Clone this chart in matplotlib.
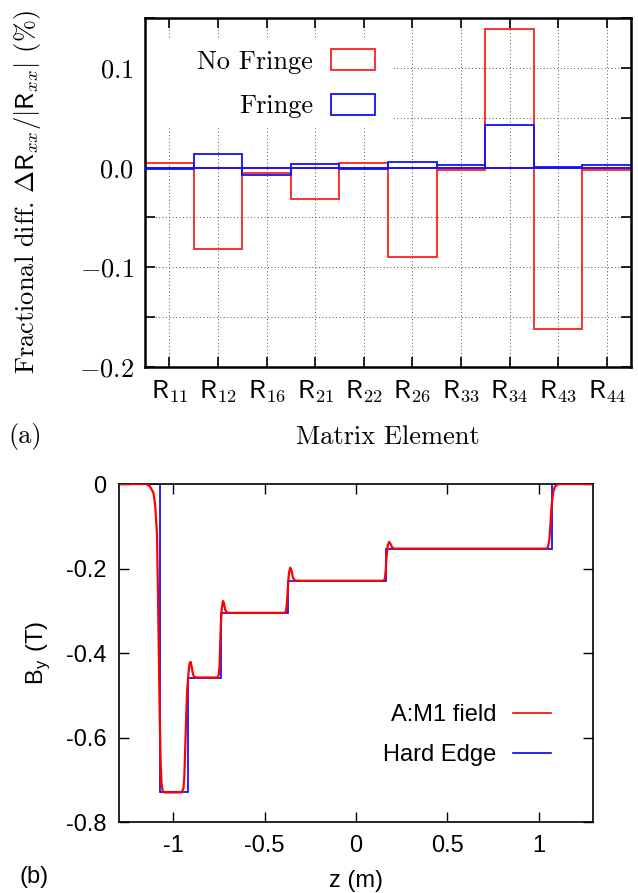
import matplotlib
matplotlib.use("Agg")
import matplotlib.pyplot as plt
from matplotlib.patches import Patch, Rectangle
from matplotlib.lines import Line2D
from matplotlib.ticker import FixedLocator, FormatStrFormatter

plt.rcParams['font.family'] = ['Liberation Sans', 'DejaVu Sans']
plt.rcParams['mathtext.fontset'] = 'cm'
plt.rcParams['axes.unicode_minus'] = False

# (a) fractional difference per matrix element
elements = ['11', '12', '16', '21', '22', '26', '33', '34', '43', '44']
no_fringe = [0.005, -0.082, -0.005, -0.031, 0.005, -0.090, -0.002, 0.139, -0.162, -0.002]
fringe = [-0.001, 0.014, -0.007, 0.004, -0.001, 0.006, 0.003, 0.043, 0.001, 0.003]
ytick_vals = [0.15, 0.1, 0.05, 0.0, -0.05, -0.1, -0.15, -0.2]
ytick_text = ['', r'$0.1$', '', r'$0.0$', '', r'$-0.1$', '', r'$-0.2$']

# (b) field profile along z
hard_edges = [-1.3, -1.075, -0.918, -0.742, -0.375, 0.167, 1.075, 1.3]
hard_by = [0.0, -0.730, -0.458, -0.305, -0.229, -0.153, 0.0]
fringe_z = [-1.30, -1.15, -1.13, -1.11, -1.10, -1.09, -1.085, -1.08, -1.075, -1.07,
            -1.065, -1.058, -1.05, -0.955, -0.945, -0.94, -0.935, -0.93, -0.925, -0.918,
            -0.912, -0.906, -0.90, -0.893, -0.885, -0.87, -0.76, -0.752, -0.747, -0.744,
            -0.740, -0.735, -0.729, -0.724, -0.717, -0.708, -0.69, -0.39, -0.383, -0.378,
            -0.373, -0.367, -0.36, -0.353, -0.345, -0.335, -0.32, 0.15, 0.158, 0.163,
            0.168, 0.174, 0.182, 0.19, 0.198, 0.21, 1.04, 1.052, 1.06, 1.066,
            1.072, 1.08, 1.09, 1.105, 1.12, 1.30]
fringe_by = [0.0, 0.0, -0.005, -0.02, -0.05, -0.12, -0.25, -0.40, -0.55, -0.66,
             -0.71, -0.727, -0.730, -0.730, -0.72, -0.69, -0.62, -0.55, -0.49, -0.45,
             -0.425, -0.421, -0.432, -0.450, -0.457, -0.458, -0.458, -0.452, -0.43, -0.38,
             -0.33, -0.295, -0.277, -0.280, -0.297, -0.304, -0.305, -0.305, -0.300, -0.28,
             -0.245, -0.21, -0.198, -0.205, -0.222, -0.228, -0.229, -0.229, -0.225, -0.205,
             -0.17, -0.145, -0.137, -0.142, -0.150, -0.153, -0.153, -0.150, -0.13, -0.09,
             -0.05, -0.02, -0.006, -0.001, 0.0, 0.0]

fig = plt.figure(figsize=(6.38, 8.93), dpi=100)

# ---- top panel
ax1 = fig.add_axes([0.2273, 0.589, 0.7618, 0.3908])
pos = list(range(1, len(elements) + 1))
ax1.bar(pos, no_fringe, width=1.0, fill=False, edgecolor='#ff2020', linewidth=1.3, zorder=2)
ax1.bar(pos, fringe, width=1.0, fill=False, edgecolor='#1010ff', linewidth=1.3, zorder=3)
ax1.set_xlim(0.5, 10.5)
ax1.set_ylim(-0.2, 0.15)
ax1.set_xticks(pos)
ax1.set_xticklabels([r'$\mathsf{R}_{\mathsf{%s}}$' % e for e in elements], fontsize=19)
ax1.yaxis.set_major_locator(FixedLocator(ytick_vals))
ax1.set_yticklabels(ytick_text, fontsize=19)
ax1.grid(True, linestyle=(0, (1, 2.5)), color='#555555', linewidth=0.7)
ax1.set_axisbelow(True)
ax1.tick_params(direction='in', length=7, width=1.2, top=True, right=True, pad=8)
for s in ax1.spines.values():
    s.set_linewidth(1.8)
# key area hides the grid, as in gnuplot
ax1.add_patch(Rectangle((0.0, 0.685), 0.512, 0.258, transform=ax1.transAxes,
                        facecolor='white', edgecolor='none', zorder=1))
ax1.set_ylabel(r'Fractional diff. $\Delta\mathsf{R}_{xx}/|\mathsf{R}_{xx}|$ (%)',
               fontfamily='cmr10', fontsize=19, labelpad=26)
ax1.set_xlabel('Matrix Element', fontfamily='cmr10', fontsize=19, labelpad=15)
h1 = [Patch(facecolor='none', edgecolor='#ff2020', linewidth=1.3),
      Patch(facecolor='none', edgecolor='#1010ff', linewidth=1.3)]
ax1.legend(h1, ['No Fringe', 'Fringe'], loc='center right', bbox_to_anchor=(0.473, 0.812),
           markerfirst=False, frameon=False, prop={'family': 'cmr10', 'size': 19},
           handlelength=1.65, handleheight=0.85, handletextpad=0.7, labelspacing=0.75,
           borderpad=0, borderaxespad=0)
fig.text(8 / 638, 1 - 437 / 893, '(a)', fontfamily='cmr10', fontsize=19, va='center')

# ---- bottom panel
ax2 = fig.add_axes([0.186, 0.0795, 0.7439, 0.3785])
ax2.stairs(hard_by, hard_edges, baseline=None, color='#0000ff', linewidth=1.2, zorder=2)
ax2.plot(fringe_z, fringe_by, color='#ff0000', linewidth=1.6, zorder=3)
ax2.set_xlim(-1.3, 1.3)
ax2.set_ylim(-0.8, 0.0)
ax2.set_xticks([-1, -0.5, 0, 0.5, 1])
ax2.set_yticks([0, -0.2, -0.4, -0.6, -0.8])
ax2.xaxis.set_major_formatter(FormatStrFormatter('%g'))
ax2.yaxis.set_major_formatter(FormatStrFormatter('%g'))
ax2.tick_params(direction='in', length=7, width=1.0, top=True, right=True,
                labelsize=17, pad=9)
for s in ax2.spines.values():
    s.set_linewidth(1.2)
ax2.set_xlabel('z (m)', fontsize=17, labelpad=10)
ax2.set_ylabel(r'B$_\mathregular{y}$ (T)', fontsize=17, labelpad=10)
h2 = [Line2D([], [], color='#ff0000', linewidth=1.2),
      Line2D([], [], color='#0000ff', linewidth=1.2)]
ax2.legend(h2, ['A:M1 field', 'Hard Edge'], loc='center right', bbox_to_anchor=(0.911, 0.257),
           markerfirst=False, frameon=False, fontsize=17, handlelength=1.6,
           handletextpad=0.7, labelspacing=0.75, borderpad=0, borderaxespad=0)
fig.text(20 / 638, 1 - 877 / 893, '(b)', fontsize=17, va='center')

fig.savefig('out.png', dpi=100)
